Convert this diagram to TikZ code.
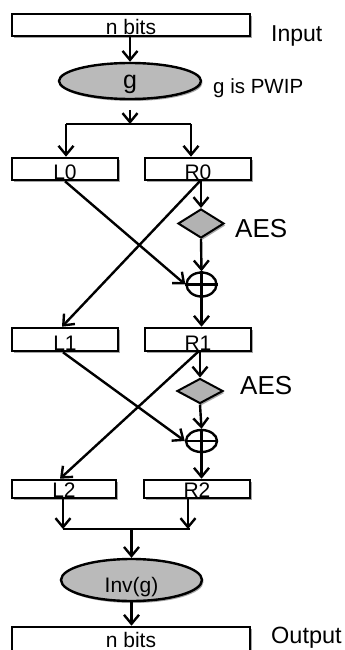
\documentclass[tikz,border=0pt]{standalone}
\usepackage{fontspec}
\setmainfont{Liberation Sans}
\usetikzlibrary{arrows.meta,shapes.geometric,shadows}
\begin{document}
\begin{tikzpicture}[x=1pt,y=-1pt,
  shd/.style={drop shadow={shadow xshift=1.5pt,shadow yshift=-2pt,opacity=0.35,fill=black}},
  bitbox/.style={draw,line width=2.6pt,fill=white,inner sep=0pt,shd},
  oval/.style={ellipse,draw,line width=2.4pt,fill=black!27,inner sep=0pt,shd},
  aesbox/.style={diamond,draw,line width=2pt,fill=black!30,inner sep=0pt,shd},
  xorop/.style={ellipse,draw,line width=2.4pt,fill=white,inner sep=0pt},
  conn/.style={line width=2.4pt,-{Straight Barb[length=9pt,width=15pt,line width=2.4pt]}},
  plain/.style={line width=2.4pt},
  lbl/.style={inner sep=0pt,anchor=base west}]
\useasboundingbox (0,0) rectangle (345,650);

% input
\node[bitbox,minimum width=238pt,minimum height=22pt,text height=21pt,text depth=1pt,font=\fontsize{21}{22}\selectfont] (in) at (131,25) {n bits};
\node[lbl,font=\fontsize{23}{25}\selectfont] (inl) at (271,42) {Input};

\node[oval,minimum width=142pt,minimum height=36pt,text height=16pt,text depth=0pt,font=\fontsize{25}{27}\selectfont] (g) at (130,81) {g};
\node[lbl,font=\fontsize{20.5}{23}\selectfont] (gl) at (213,94) {g is PWIP};

\coordinate (gs) at (130,110);
\coordinate (j0) at (130,124);
\coordinate (j0l) at (66,124);
\coordinate (j0r) at (191,124);

% round 0
\node[bitbox,minimum width=106pt,minimum height=22pt,text height=21pt,text depth=1pt,font=\fontsize{21}{22}\selectfont] (L0) at (65,169) {L0};
\node[bitbox,minimum width=106pt,minimum height=22pt,text height=21pt,text depth=1pt,font=\fontsize{21}{22}\selectfont] (R0) at (198,169) {R0};
\coordinate (r0s) at (201,180);
\node[aesbox,minimum width=46pt,minimum height=29pt] (f0) at (201,223.5) {};
\node[lbl,font=\fontsize{26}{28}\selectfont] (a0) at (235,237) {AES};
\node[xorop,minimum width=30pt,minimum height=24pt] (x0) at (201.5,284.5) {};

% round 1
\node[bitbox,minimum width=106pt,minimum height=23pt,text height=22pt,text depth=1pt,font=\fontsize{21}{22}\selectfont] (L1) at (65,339.5) {L1};
\node[bitbox,minimum width=106pt,minimum height=23pt,text height=22pt,text depth=1pt,font=\fontsize{21}{22}\selectfont] (R1) at (198,339.5) {R1};
\coordinate (r1s) at (200,351);
\node[aesbox,minimum width=46pt,minimum height=25pt] (f1) at (200,391) {};
\node[lbl,font=\fontsize{26}{28}\selectfont] (a1) at (240,394) {AES};
\node[xorop,minimum width=31pt,minimum height=22pt] (x1) at (201.5,441) {};

% round 2
\node[bitbox,minimum width=104pt,minimum height=18pt,text height=17pt,text depth=1pt,font=\fontsize{21}{22}\selectfont] (L2) at (64,489) {L2};
\node[bitbox,minimum width=106pt,minimum height=18pt,text height=17pt,text depth=1pt,font=\fontsize{21}{22}\selectfont] (R2) at (197,489) {R2};

\coordinate (j2l) at (63,529);
\coordinate (j2r) at (188,529);
\coordinate (j2ll) at (63,529);
\coordinate (j2rr) at (190,529);
\coordinate (j2) at (133,529);

\node[oval,minimum width=141pt,minimum height=42pt,text height=24pt,text depth=0pt,font=\fontsize{21}{22}\selectfont] (ig) at (131.5,580) {Inv(g)};

\node[bitbox,minimum width=238pt,minimum height=25pt,text height=20pt,text depth=5pt,font=\fontsize{21}{22}\selectfont] (out) at (131,639.5) {n bits};
\node[lbl,font=\fontsize{23.5}{25}\selectfont] (outl) at (271,643) {Output};

% xor plus signs
\draw[plain] (x0.north) -- (x0.south) (x0.west) -- (x0.east);
\draw[plain] (x1.north) -- (x1.south) (x1.west) -- (x1.east);

% connectors
\draw[conn] (in.south -| g.north) -- (g.north);
\draw[conn] (gs) -- (j0);
\draw[plain] (j0l) -- (j0r);
\draw[conn] (j0l) -- (j0l |- L0.north);
\draw[conn] (j0r) -- (j0r |- R0.north);

\draw[conn] (r0s) -- (f0.north);
\draw[conn] (f0.south) -- (x0.north);
\draw[conn] (x0.south) -- (x0.south |- R1.north);
\draw[conn] (L0.south) -- (x0.west);
\draw[conn] (r0s) -- ([xshift=-3pt]L1.north);

\draw[conn] (r1s) -- (f1.north);
\draw[conn] (f1.south) -- (x1.north);
\draw[conn] (x1.south) -- (x1.south |- R2.north);
\draw[conn] ([xshift=-2pt]L1.south) -- (x1.west);
\draw[conn] ([xshift=-1pt]r1s) -- ([xshift=-4pt]L2.north);

\draw[conn] (j2l |- L2.south) -- (j2l);
\draw[conn] (j2r |- R2.south) -- (j2r);
\draw[plain] (j2ll) -- (j2rr);
\draw[conn] (j2) -- (j2 -| ig.north) -- (ig.north);
\draw[conn] (ig.south) -- (ig.south |- out.north);
\end{tikzpicture}
\end{document}
